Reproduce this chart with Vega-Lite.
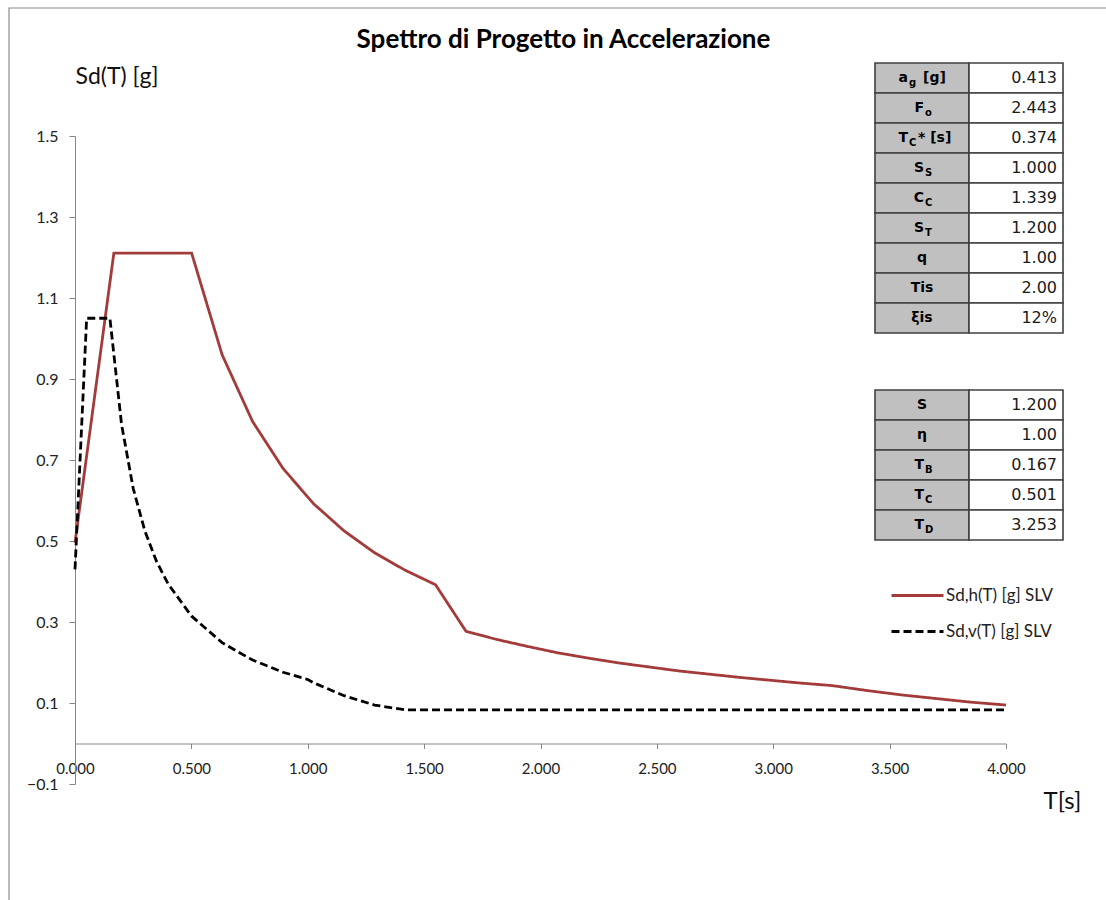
{
  "$schema": "https://vega.github.io/schema/vega-lite/v6.json",
  "autosize": {"type": "none"},
  "padding": {"left": 75, "top": 136, "right": 100, "bottom": 116},
  "width": 931,
  "height": 648,
  "background": "white",
  "title": {
    "text": "Spettro di Progetto in Accelerazione",
    "font": "Lato",
    "fontSize": 26,
    "fontWeight": "bold",
    "color": "#000000",
    "anchor": "middle",
    "frame": "group",
    "dx": 23,
    "offset": -67,
    "baseline": "alphabetic"
  },
  "config": {
    "view": {"stroke": null},
    "axis": {
      "grid": false,
      "domainColor": "#868686",
      "tickColor": "#868686",
      "labelColor": "#222222",
      "titleColor": "#111111",
      "labelFont": "Lato",
      "titleFont": "Lato",
      "titleFontWeight": "normal"
    }
  },
  "datasets": {
    "spectra": [
      {"T": 0.000, "Sd": 0.496, "series": "Sd,h(T) [g] SLV"},
      {"T": 0.167, "Sd": 1.211, "series": "Sd,h(T) [g] SLV"},
      {"T": 0.501, "Sd": 1.211, "series": "Sd,h(T) [g] SLV"},
      {"T": 0.632, "Sd": 0.960, "series": "Sd,h(T) [g] SLV"},
      {"T": 0.763, "Sd": 0.795, "series": "Sd,h(T) [g] SLV"},
      {"T": 0.894, "Sd": 0.679, "series": "Sd,h(T) [g] SLV"},
      {"T": 1.025, "Sd": 0.592, "series": "Sd,h(T) [g] SLV"},
      {"T": 1.156, "Sd": 0.525, "series": "Sd,h(T) [g] SLV"},
      {"T": 1.287, "Sd": 0.471, "series": "Sd,h(T) [g] SLV"},
      {"T": 1.418, "Sd": 0.428, "series": "Sd,h(T) [g] SLV"},
      {"T": 1.549, "Sd": 0.392, "series": "Sd,h(T) [g] SLV"},
      {"T": 1.680, "Sd": 0.277, "series": "Sd,h(T) [g] SLV"},
      {"T": 1.811, "Sd": 0.257, "series": "Sd,h(T) [g] SLV"},
      {"T": 1.942, "Sd": 0.240, "series": "Sd,h(T) [g] SLV"},
      {"T": 2.073, "Sd": 0.224, "series": "Sd,h(T) [g] SLV"},
      {"T": 2.204, "Sd": 0.211, "series": "Sd,h(T) [g] SLV"},
      {"T": 2.335, "Sd": 0.199, "series": "Sd,h(T) [g] SLV"},
      {"T": 2.466, "Sd": 0.189, "series": "Sd,h(T) [g] SLV"},
      {"T": 2.597, "Sd": 0.179, "series": "Sd,h(T) [g] SLV"},
      {"T": 2.728, "Sd": 0.171, "series": "Sd,h(T) [g] SLV"},
      {"T": 2.859, "Sd": 0.163, "series": "Sd,h(T) [g] SLV"},
      {"T": 2.990, "Sd": 0.156, "series": "Sd,h(T) [g] SLV"},
      {"T": 3.121, "Sd": 0.149, "series": "Sd,h(T) [g] SLV"},
      {"T": 3.253, "Sd": 0.143, "series": "Sd,h(T) [g] SLV"},
      {"T": 3.400, "Sd": 0.131, "series": "Sd,h(T) [g] SLV"},
      {"T": 3.550, "Sd": 0.120, "series": "Sd,h(T) [g] SLV"},
      {"T": 3.700, "Sd": 0.111, "series": "Sd,h(T) [g] SLV"},
      {"T": 3.850, "Sd": 0.102, "series": "Sd,h(T) [g] SLV"},
      {"T": 4.000, "Sd": 0.095, "series": "Sd,h(T) [g] SLV"},
      {"T": 0.000, "Sd": 0.430, "series": "Sd,v(T) [g] SLV"},
      {"T": 0.050, "Sd": 1.050, "series": "Sd,v(T) [g] SLV"},
      {"T": 0.150, "Sd": 1.050, "series": "Sd,v(T) [g] SLV"},
      {"T": 0.200, "Sd": 0.788, "series": "Sd,v(T) [g] SLV"},
      {"T": 0.250, "Sd": 0.630, "series": "Sd,v(T) [g] SLV"},
      {"T": 0.300, "Sd": 0.525, "series": "Sd,v(T) [g] SLV"},
      {"T": 0.350, "Sd": 0.450, "series": "Sd,v(T) [g] SLV"},
      {"T": 0.400, "Sd": 0.394, "series": "Sd,v(T) [g] SLV"},
      {"T": 0.500, "Sd": 0.315, "series": "Sd,v(T) [g] SLV"},
      {"T": 0.632, "Sd": 0.249, "series": "Sd,v(T) [g] SLV"},
      {"T": 0.763, "Sd": 0.206, "series": "Sd,v(T) [g] SLV"},
      {"T": 0.894, "Sd": 0.176, "series": "Sd,v(T) [g] SLV"},
      {"T": 1.000, "Sd": 0.158, "series": "Sd,v(T) [g] SLV"},
      {"T": 1.025, "Sd": 0.150, "series": "Sd,v(T) [g] SLV"},
      {"T": 1.156, "Sd": 0.118, "series": "Sd,v(T) [g] SLV"},
      {"T": 1.287, "Sd": 0.095, "series": "Sd,v(T) [g] SLV"},
      {"T": 1.418, "Sd": 0.083, "series": "Sd,v(T) [g] SLV"},
      {"T": 2.000, "Sd": 0.083, "series": "Sd,v(T) [g] SLV"},
      {"T": 3.000, "Sd": 0.083, "series": "Sd,v(T) [g] SLV"},
      {"T": 4.000, "Sd": 0.083, "series": "Sd,v(T) [g] SLV"}
    ],
    "table1": [
      {"row": 1, "main": "a", "sub": "g", "post": "[g]", "value": "0.413", "kind": "subpost"},
      {"row": 2, "main": "F", "sub": "o", "post": "", "value": "2.443", "kind": "sub"},
      {"row": 3, "main": "T", "sub": "C", "post": "* [s]", "value": "0.374", "kind": "subpost"},
      {"row": 4, "main": "S", "sub": "S", "post": "", "value": "1.000", "kind": "sub"},
      {"row": 5, "main": "C", "sub": "C", "post": "", "value": "1.339", "kind": "sub"},
      {"row": 6, "main": "S", "sub": "T", "post": "", "value": "1.200", "kind": "sub"},
      {"row": 7, "main": "q", "sub": "", "post": "", "value": "1.00", "kind": "plain"},
      {"row": 8, "main": "Tis", "sub": "", "post": "", "value": "2.00", "kind": "plain"},
      {"row": 9, "main": "ξis", "sub": "", "post": "", "value": "12%", "kind": "plain"}
    ],
    "table2": [
      {"row": 1, "main": "S", "sub": "", "post": "", "value": "1.200", "kind": "plain"},
      {"row": 2, "main": "η", "sub": "", "post": "", "value": "1.00", "kind": "plain"},
      {"row": 3, "main": "T", "sub": "B", "post": "", "value": "0.167", "kind": "sub"},
      {"row": 4, "main": "T", "sub": "C", "post": "", "value": "0.501", "kind": "sub"},
      {"row": 5, "main": "T", "sub": "D", "post": "", "value": "3.253", "kind": "sub"}
    ]
  },
  "layer": [
    {
      "data": {"values": [{"frame": 1}]},
      "mark": {"type": "rect", "fillOpacity": 0, "stroke": "#8c8c8c", "strokeWidth": 1.2, "clip": false},
      "encoding": {
        "x": {"datum": 0, "type": "quantitative", "scale": {"domain": [0, 1], "range": [-66, 1045]}, "axis": null},
        "x2": {"datum": 1},
        "y": {"datum": 0, "type": "quantitative", "scale": {"domain": [0, 1], "range": [-128, 780]}, "axis": null},
        "y2": {"datum": 1}
      }
    },
    {
      "data": {"name": "spectra"},
      "mark": {"type": "line", "strokeWidth": 2.8, "clip": false},
      "encoding": {
        "x": {
          "field": "T", "type": "quantitative",
          "scale": {"domain": [0, 4], "nice": false, "zero": false},
          "axis": {
            "values": [0, 0.5, 1, 1.5, 2, 2.5, 3, 3.5, 4],
            "format": ".3f",
            "offset": -40.5,
            "tickSize": 5,
            "labelPadding": 13,
            "labelFontSize": 15,
            "labelFlush": false,
            "labelOverlap": false,
            "title": "T[s]",
            "titleFontSize": 24,
            "titleX": 968,
            "titleY": 65,
            "titleAlign": "left",
            "titleBaseline": "alphabetic"
          }
        },
        "y": {
          "field": "Sd", "type": "quantitative",
          "scale": {"domain": [-0.1, 1.5], "nice": false, "zero": false},
          "axis": {
            "values": [-0.1, 0.1, 0.3, 0.5, 0.7, 0.9, 1.1, 1.3, 1.5],
            "format": ".1f",
            "tickSize": 6,
            "labelPadding": 11,
            "labelFontSize": 16,
            "labelOverlap": false,
            "title": "Sd(T) [g]",
            "titleFontSize": 23,
            "titleAngle": 0,
            "titleX": 0,
            "titleY": -53,
            "titleAlign": "left",
            "titleBaseline": "alphabetic"
          }
        },
        "color": {
          "field": "series", "type": "nominal",
          "scale": {"domain": ["Sd,h(T) [g] SLV", "Sd,v(T) [g] SLV"], "range": ["#A33B3B", "#000000"]},
          "legend": {
            "title": null, "orient": "none", "legendX": 815, "legendY": 432,
            "symbolType": "stroke", "symbolSize": 2704, "symbolStrokeWidth": 2.8,
            "labelFont": "Lato", "labelFontSize": 17, "labelColor": "#222222",
            "labelOffset": 1, "rowPadding": -14, "padding": 0
          }
        },
        "strokeDash": {
          "field": "series", "type": "nominal",
          "scale": {"domain": ["Sd,h(T) [g] SLV", "Sd,v(T) [g] SLV"], "range": [[1, 0], [8, 4]]},
          "legend": {
            "title": null, "orient": "none", "legendX": 815, "legendY": 432,
            "symbolType": "stroke", "symbolSize": 2704, "symbolStrokeWidth": 2.8,
            "labelFont": "Lato", "labelFontSize": 17, "labelColor": "#222222",
            "labelOffset": 1, "rowPadding": -14, "padding": 0
          }
        }
      }
    },
    {
      "data": {"name": "table1"},
      "encoding": {
        "y": {"field": "row", "type": "ordinal", "scale": {"range": [-73, 197], "paddingInner": 0, "paddingOuter": 0}, "axis": null}
      },
      "layer": [
        {
          "mark": {"type": "rect", "fill": "#C0C0C0", "stroke": "#404040", "strokeWidth": 1.6},
          "encoding": {"x": {"datum": 0, "type": "quantitative", "scale": {"domain": [0, 2], "range": [800, 988]}, "axis": null}, "x2": {"datum": 1}}
        },
        {
          "mark": {"type": "rect", "fill": "#FFFFFF", "stroke": "#404040", "strokeWidth": 1.6},
          "encoding": {"x": {"datum": 1, "type": "quantitative"}, "x2": {"datum": 2}}
        },
        {
          "mark": {"type": "text", "align": "right", "baseline": "middle", "dx": -6, "font": "DejaVu Sans", "fontSize": 16, "color": "#1a1a1a"},
          "encoding": {"x": {"datum": 2, "type": "quantitative"}, "text": {"field": "value"}}
        },
        {
          "transform": [{"filter": "datum.kind == 'plain'"}],
          "mark": {"type": "text", "align": "center", "baseline": "middle", "font": "DejaVu Sans", "fontSize": 14, "fontWeight": "bold", "color": "#000000"},
          "encoding": {"x": {"datum": 0.5, "type": "quantitative"}, "text": {"field": "main"}}
        },
        {
          "transform": [{"filter": "datum.kind == 'sub'"}],
          "mark": {"type": "text", "align": "right", "baseline": "middle", "dx": 2, "font": "DejaVu Sans", "fontSize": 14, "fontWeight": "bold", "color": "#000000"},
          "encoding": {"x": {"datum": 0.5, "type": "quantitative"}, "text": {"field": "main"}}
        },
        {
          "transform": [{"filter": "datum.kind == 'sub'"}],
          "mark": {"type": "text", "align": "left", "baseline": "middle", "dx": 3, "dy": 5, "font": "DejaVu Sans", "fontSize": 10, "fontWeight": "bold", "color": "#000000"},
          "encoding": {"x": {"datum": 0.5, "type": "quantitative"}, "text": {"field": "sub"}}
        },
        {
          "transform": [{"filter": "datum.kind == 'subpost'"}],
          "mark": {"type": "text", "align": "right", "baseline": "middle", "dx": -14, "font": "DejaVu Sans", "fontSize": 14, "fontWeight": "bold", "color": "#000000"},
          "encoding": {"x": {"datum": 0.5, "type": "quantitative"}, "text": {"field": "main"}}
        },
        {
          "transform": [{"filter": "datum.kind == 'subpost'"}],
          "mark": {"type": "text", "align": "left", "baseline": "middle", "dx": -13, "dy": 5, "font": "DejaVu Sans", "fontSize": 10, "fontWeight": "bold", "color": "#000000"},
          "encoding": {"x": {"datum": 0.5, "type": "quantitative"}, "text": {"field": "sub"}}
        },
        {
          "transform": [{"filter": "datum.kind == 'subpost' && datum.sub == 'g'"}],
          "mark": {"type": "text", "align": "left", "baseline": "middle", "dx": 1, "font": "DejaVu Sans", "fontSize": 14, "fontWeight": "bold", "color": "#000000"},
          "encoding": {"x": {"datum": 0.5, "type": "quantitative"}, "text": {"field": "post"}}
        },
        {
          "transform": [{"filter": "datum.kind == 'subpost' && datum.sub != 'g'"}],
          "mark": {"type": "text", "align": "left", "baseline": "middle", "dx": -4, "font": "DejaVu Sans", "fontSize": 14, "fontWeight": "bold", "color": "#000000"},
          "encoding": {"x": {"datum": 0.5, "type": "quantitative"}, "text": {"field": "post"}}
        }
      ]
    },
    {
      "data": {"name": "table2"},
      "encoding": {
        "y": {"field": "row", "type": "ordinal", "scale": {"range": [254, 404], "paddingInner": 0, "paddingOuter": 0}, "axis": null}
      },
      "layer": [
        {
          "mark": {"type": "rect", "fill": "#C0C0C0", "stroke": "#404040", "strokeWidth": 1.6},
          "encoding": {"x": {"datum": 0, "type": "quantitative", "scale": {"domain": [0, 2], "range": [800, 988]}, "axis": null}, "x2": {"datum": 1}}
        },
        {
          "mark": {"type": "rect", "fill": "#FFFFFF", "stroke": "#404040", "strokeWidth": 1.6},
          "encoding": {"x": {"datum": 1, "type": "quantitative"}, "x2": {"datum": 2}}
        },
        {
          "mark": {"type": "text", "align": "right", "baseline": "middle", "dx": -6, "font": "DejaVu Sans", "fontSize": 16, "color": "#1a1a1a"},
          "encoding": {"x": {"datum": 2, "type": "quantitative"}, "text": {"field": "value"}}
        },
        {
          "transform": [{"filter": "datum.kind == 'plain'"}],
          "mark": {"type": "text", "align": "center", "baseline": "middle", "font": "DejaVu Sans", "fontSize": 14, "fontWeight": "bold", "color": "#000000"},
          "encoding": {"x": {"datum": 0.5, "type": "quantitative"}, "text": {"field": "main"}}
        },
        {
          "transform": [{"filter": "datum.kind == 'sub'"}],
          "mark": {"type": "text", "align": "right", "baseline": "middle", "dx": 2, "font": "DejaVu Sans", "fontSize": 14, "fontWeight": "bold", "color": "#000000"},
          "encoding": {"x": {"datum": 0.5, "type": "quantitative"}, "text": {"field": "main"}}
        },
        {
          "transform": [{"filter": "datum.kind == 'sub'"}],
          "mark": {"type": "text", "align": "left", "baseline": "middle", "dx": 3, "dy": 5, "font": "DejaVu Sans", "fontSize": 10, "fontWeight": "bold", "color": "#000000"},
          "encoding": {"x": {"datum": 0.5, "type": "quantitative"}, "text": {"field": "sub"}}
        }
      ]
    }
  ],
  "resolve": {"scale": {"x": "independent", "y": "independent"}}
}
